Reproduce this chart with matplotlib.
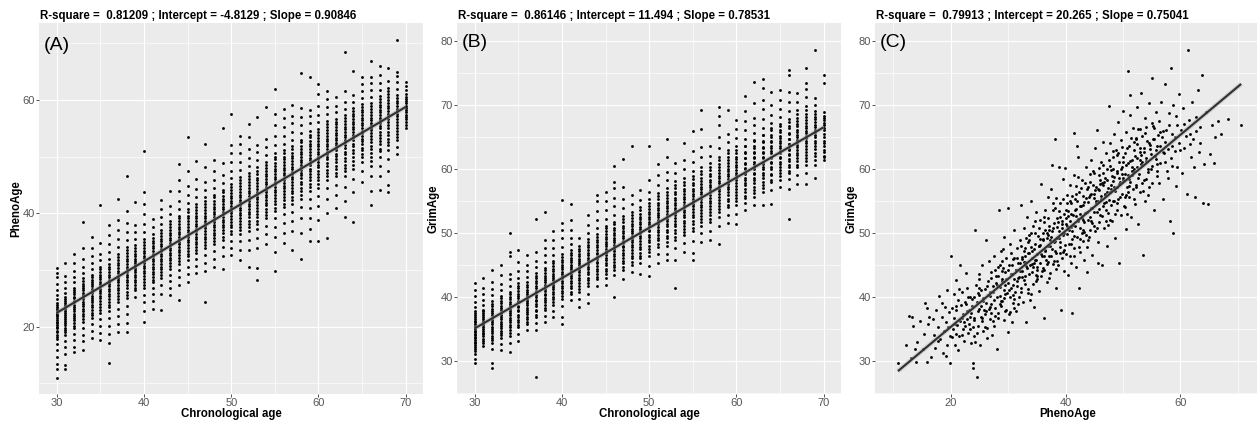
import matplotlib
matplotlib.use("Agg")
import matplotlib.pyplot as plt
from matplotlib.ticker import MultipleLocator
import numpy as np

plt.rcParams['font.family'] = ['Liberation Sans', 'DejaVu Sans']

# ---------------- data ----------------
ages = [30, 31, 32, 33, 34, 35, 36, 37, 38, 39, 40, 41, 42, 43, 44, 45, 46, 47, 48, 49,
        50, 51, 52, 53, 54, 55, 56, 57, 58, 59, 60, 61, 62, 63, 64, 65, 66, 67, 68, 69, 70]

# Panel A: PhenoAge values observed at each chronological age (spread of each column)
phenoage_by_age = [
    [10.9, 12.5, 13.4, 14.6, 15.8, 16.9, 17.8, 18.6, 19.3, 20.0, 20.6, 21.2, 21.8, 22.3, 22.9, 23.5, 24.1, 24.8, 25.6, 26.5, 27.6, 28.7, 29.5, 30.3],
    [12.5, 13.3, 15.1, 16.4, 17.5, 18.6, 19.4, 20.3, 21.0, 21.7, 22.4, 23.1, 23.8, 24.5, 25.2, 26.0, 26.9, 27.8, 28.9, 31.2],
    [15.6, 16.5, 17.6, 18.7, 19.7, 20.6, 21.5, 22.3, 23.1, 23.9, 24.6, 25.3, 26.1, 26.9, 27.8, 28.8, 29.9, 31.2, 32.9],
    [15.9, 17.4, 18.6, 19.8, 20.9, 21.9, 22.8, 23.6, 24.4, 25.2, 26.0, 26.8, 27.6, 28.5, 29.5, 30.6, 31.9, 33.8, 38.5],
    [18.0, 19.2, 20.4, 21.5, 22.5, 23.4, 24.3, 25.1, 25.9, 26.7, 27.5, 28.3, 29.2, 30.1, 31.2, 32.4, 33.8, 35.9],
    [17.6, 18.9, 20.1, 21.3, 22.4, 23.5, 24.5, 25.4, 26.3, 27.1, 27.9, 28.8, 29.7, 30.6, 31.7, 32.9, 34.8, 41.4],
    [13.6, 17.2, 18.7, 20.2, 21.6, 22.8, 23.9, 24.9, 25.8, 26.7, 27.5, 28.3, 29.2, 30.1, 31.0, 32.0, 33.2, 34.6, 36.1, 37.9],
    [19.0, 20.4, 21.8, 23.1, 24.3, 25.4, 26.4, 27.3, 28.2, 29.0, 29.9, 30.8, 31.8, 32.9, 34.1, 35.5, 37.0, 38.8, 42.5],
    [19.0, 20.7, 22.3, 23.7, 25.0, 26.2, 27.3, 28.3, 29.2, 30.1, 31.0, 32.0, 33.0, 34.1, 35.3, 36.7, 38.3, 40.4, 46.5],
    [25.3, 26.4, 27.4, 28.3, 29.2, 30.0, 30.8, 31.6, 32.5, 33.4, 34.4, 35.5, 36.7, 38.0, 42.0],
    [20.9, 22.8, 24.3, 25.6, 26.8, 27.9, 28.9, 29.8, 30.7, 31.6, 32.5, 33.4, 34.4, 35.5, 36.7, 38.1, 39.8, 41.6, 43.7, 51.0],
    [23.2, 24.6, 25.8, 26.9, 27.9, 28.8, 29.7, 30.6, 31.5, 32.4, 33.3, 34.2, 35.2, 36.3, 37.5, 39.0],
    [23.0, 25.8, 27.3, 28.5, 29.6, 30.6, 31.5, 32.4, 33.3, 34.2, 35.1, 36.0, 37.0, 38.1, 39.3, 40.8, 42.4],
    [25.6, 26.9, 28.1, 29.2, 30.2, 31.2, 32.1, 33.0, 33.9, 34.8, 35.7, 36.6, 37.6, 38.7, 39.9, 41.3, 43.9],
    [24.7, 27.4, 28.8, 30.0, 31.1, 32.1, 33.1, 34.0, 34.9, 35.8, 36.7, 37.6, 38.6, 39.6, 40.8, 42.1, 44.0, 45.9, 48.7],
    [27.9, 29.3, 30.6, 31.8, 32.9, 33.9, 34.9, 35.8, 36.7, 37.6, 38.6, 39.6, 40.7, 41.9, 43.2, 44.8, 47.4, 53.5],
    [29.4, 30.7, 31.9, 33.0, 34.0, 35.0, 35.9, 36.8, 37.7, 38.6, 39.6, 40.6, 41.7, 42.9, 44.3, 46.0, 49.2],
    [24.4, 29.8, 31.3, 32.6, 33.8, 34.9, 35.9, 36.9, 37.8, 38.7, 39.6, 40.6, 41.7, 42.8, 44.1, 45.6, 48.2, 52.2],
    [30.6, 32.0, 33.3, 34.5, 35.6, 36.6, 37.6, 38.5, 39.4, 40.3, 41.2, 42.2, 43.3, 44.5, 45.9, 47.5, 49.4],
    [30.1, 32.5, 34.0, 35.3, 36.5, 37.5, 38.5, 39.4, 40.3, 41.2, 42.1, 43.1, 44.2, 45.4, 46.8, 48.8, 55.0],
    [32.6, 33.9, 35.2, 36.4, 37.5, 38.5, 39.5, 40.4, 41.3, 42.2, 43.1, 44.1, 45.1, 46.2, 47.5, 49.0, 50.6, 52.0, 57.5],
    [31.8, 33.6, 35.1, 36.4, 37.6, 38.7, 39.7, 40.6, 41.5, 42.4, 43.3, 44.3, 45.3, 46.4, 47.6, 49.0, 50.6, 52.2, 53.6],
    [30.5, 33.5, 35.3, 36.8, 38.1, 39.3, 40.3, 41.3, 42.2, 43.1, 44.0, 45.0, 46.0, 47.1, 48.3, 49.7, 51.4, 53.5, 55.8],
    [28.2, 30.3, 33.8, 35.7, 37.3, 38.7, 39.9, 41.0, 42.0, 42.9, 43.8, 44.8, 45.8, 46.9, 48.1, 49.4, 50.9, 52.0, 57.0],
    [34.6, 36.3, 37.8, 39.1, 40.3, 41.4, 42.4, 43.3, 44.2, 45.1, 46.0, 47.0, 48.0, 49.1, 50.3, 51.7, 53.2, 58.8],
    [29.9, 33.2, 35.8, 37.6, 39.1, 40.4, 41.6, 42.7, 43.7, 44.6, 45.5, 46.4, 47.4, 48.4, 49.5, 50.7, 52.1, 53.6, 55.6, 57.6, 62.0],
    [34.8, 36.6, 38.3, 39.8, 41.1, 42.3, 43.4, 44.4, 45.3, 46.2, 47.1, 48.0, 49.0, 50.0, 51.1, 52.3, 53.7, 55.3, 56.8, 58.4],
    [33.5, 36.8, 38.7, 40.3, 41.7, 42.9, 44.0, 45.0, 46.0, 46.9, 47.8, 48.7, 49.7, 50.7, 51.8, 53.0, 54.4, 56.0, 57.2, 59.1],
    [32.0, 36.5, 39.2, 41.1, 42.6, 43.9, 45.1, 46.2, 47.2, 48.1, 49.0, 49.9, 50.9, 51.9, 53.0, 54.2, 55.5, 57.0, 58.5, 64.8],
    [35.2, 37.2, 39.1, 40.9, 42.5, 43.9, 45.2, 46.4, 47.5, 48.5, 49.4, 50.3, 51.3, 52.3, 53.4, 54.6, 55.9, 57.2, 58.2, 64.1],
    [35.2, 38.9, 41.3, 43.0, 44.5, 45.8, 47.0, 48.1, 49.1, 50.0, 50.9, 51.8, 52.8, 53.8, 54.9, 56.1, 57.4, 59.0, 61.0, 62.9],
    [35.6, 40.0, 42.6, 44.4, 45.9, 47.2, 48.4, 49.5, 50.5, 51.4, 52.3, 53.2, 54.2, 55.2, 56.3, 57.5, 58.8, 60.2, 61.5],
    [40.9, 43.2, 45.0, 46.5, 47.8, 49.0, 50.1, 51.1, 52.0, 52.9, 53.8, 54.7, 55.7, 56.7, 57.8, 59.0, 60.6],
    [39.3, 42.2, 44.7, 46.5, 48.0, 49.3, 50.5, 51.6, 52.6, 53.5, 54.4, 55.3, 56.3, 57.3, 58.4, 59.6, 61.5, 68.4],
    [38.5, 43.8, 46.1, 47.8, 49.3, 50.6, 51.8, 52.9, 53.9, 54.8, 55.7, 56.6, 57.6, 58.6, 59.7, 60.9, 65.2],
    [45.6, 47.4, 49.0, 50.4, 51.6, 52.7, 53.7, 54.6, 55.5, 56.4, 57.3, 58.3, 59.3, 60.4, 61.6, 62.9, 64.1],
    [41.5, 44.0, 46.6, 48.4, 50.0, 51.4, 52.6, 53.7, 54.7, 55.6, 56.5, 57.4, 58.4, 59.4, 60.5, 61.7, 63.0, 64.0, 66.8],
    [44.2, 46.5, 48.4, 50.0, 51.4, 52.7, 53.9, 55.0, 56.0, 56.9, 57.8, 58.7, 59.7, 60.7, 61.8, 63.0, 64.4, 66.0],
    [43.8, 45.0, 47.5, 49.5, 51.2, 52.6, 53.9, 55.1, 56.2, 57.2, 58.1, 59.0, 60.0, 61.0, 62.1, 63.4, 65.7],
    [50.5, 51.7, 52.9, 54.0, 55.1, 56.1, 57.1, 58.0, 58.9, 59.9, 60.9, 62.0, 63.2, 64.3, 65.0, 70.6],
    [55.0, 55.5, 56.2, 57.0, 57.8, 58.6, 59.4, 60.2, 61.0, 61.8, 62.5, 63.2],
]

# Panel A: extra PhenoAge values in the dense core of each column
phenoage_core_by_age = [
    [18.2, 19.0, 19.7, 20.3, 20.9, 21.5, 22.1, 22.6, 23.2, 23.8],
    [19.0, 19.8, 20.7, 21.4, 22.0, 22.7, 23.4, 24.2, 24.9],
    [20.2, 21.1, 21.9, 22.7, 23.5, 24.3, 25.0, 25.7, 26.5],
    [21.4, 22.3, 23.2, 24.0, 24.8, 25.6, 26.4, 27.2, 28.0],
    [22.0, 23.0, 23.9, 24.7, 25.5, 26.3, 27.1, 27.9, 28.7],
    [22.9, 24.0, 25.0, 25.9, 26.7, 27.5, 28.4, 29.2, 30.1],
    [23.4, 24.4, 25.4, 26.3, 27.1, 27.9, 28.8, 29.6, 30.5],
    [24.8, 25.9, 26.9, 27.8, 28.6, 29.5, 30.4, 31.3, 32.3],
    [25.6, 26.8, 27.8, 28.8, 29.7, 30.6, 31.5, 32.5, 33.5],
    [26.9, 27.9, 28.8, 29.6, 30.4, 31.2, 32.0, 32.9, 33.9],
    [27.3, 28.4, 29.4, 30.3, 31.2, 32.1, 33.0, 33.9, 34.9],
    [28.3, 29.3, 30.2, 31.1, 32.0, 32.9, 33.8, 34.7, 35.7],
    [29.1, 30.1, 31.0, 31.9, 32.8, 33.7, 34.6, 35.5, 36.5],
    [30.7, 31.7, 32.6, 33.5, 34.4, 35.3, 36.2, 37.1, 38.2],
    [31.6, 32.6, 33.6, 34.5, 35.4, 36.3, 37.2, 38.1, 39.1],
    [32.4, 33.4, 34.4, 35.3, 36.2, 37.1, 38.1, 39.1, 40.2],
    [33.5, 34.5, 35.5, 36.4, 37.3, 38.2, 39.1, 40.1, 41.2],
    [34.4, 35.4, 36.4, 37.4, 38.3, 39.2, 40.1, 41.1, 42.2],
    [35.1, 36.1, 37.1, 38.0, 38.9, 39.8, 40.8, 41.7, 42.8],
    [35.9, 37.0, 38.0, 38.9, 39.8, 40.7, 41.6, 42.6, 43.7],
    [36.9, 38.0, 39.0, 40.0, 40.9, 41.8, 42.7, 43.6, 44.6],
    [37.1, 38.2, 39.2, 40.1, 41.0, 42.0, 42.9, 43.8, 44.8, 45.9],
    [37.5, 38.7, 39.8, 40.8, 41.7, 42.6, 43.6, 44.5, 45.5, 46.6],
    [38.1, 39.3, 40.4, 41.5, 42.5, 43.4, 44.3, 45.3, 46.3, 47.5],
    [39.7, 40.8, 41.9, 42.9, 43.8, 44.7, 45.6, 46.5, 47.5, 48.6],
    [40.9, 42.1, 43.2, 44.2, 45.1, 46.0, 46.9, 47.9, 48.9, 50.0],
    [41.7, 42.8, 43.9, 44.9, 45.8, 46.7, 47.6, 48.5, 49.5, 50.6],
    [42.4, 43.5, 44.5, 45.5, 46.4, 47.3, 48.2, 49.2, 50.2, 51.3],
    [43.3, 44.5, 45.6, 46.7, 47.6, 48.5, 49.4, 50.4, 51.4, 52.5],
    [44.6, 45.8, 46.9, 47.9, 48.9, 49.8, 50.8, 51.8, 52.8, 53.9],
    [45.2, 46.4, 47.5, 48.5, 49.5, 50.4, 51.3, 52.3, 53.3, 54.4],
    [46.5, 47.7, 48.8, 49.9, 50.9, 51.8, 52.7, 53.7, 54.7, 55.8],
    [47.2, 48.4, 49.5, 50.5, 51.5, 52.4, 53.3, 54.2, 55.2, 56.2],
    [47.4, 48.6, 49.8, 50.9, 52.0, 53.0, 53.9, 54.8, 55.8, 56.8],
    [48.6, 49.9, 51.1, 52.3, 53.4, 54.3, 55.2, 56.1, 57.1, 58.1],
    [50.0, 51.1, 52.2, 53.2, 54.1, 55.0, 55.9, 56.8, 57.8, 58.8],
    [49.2, 50.6, 51.9, 53.1, 54.2, 55.1, 56.0, 56.9, 57.9, 58.9],
    [51.0, 52.2, 53.3, 54.4, 55.4, 56.4, 57.3, 58.2, 59.2, 60.2],
    [52.0, 53.2, 54.4, 55.6, 56.6, 57.6, 58.5, 59.5, 60.5, 61.6],
    [53.5, 54.6, 55.6, 56.6, 57.5, 58.4, 59.4, 60.4],
    [56.6, 57.4, 58.2, 59.0, 59.8, 60.6],
]

# Panel B: GrimAge values observed at each chronological age (spread of each column)
grimage_by_age = [
    [29.6, 30.2, 31.1, 31.8, 32.4, 33.0, 33.5, 34.0, 34.5, 35.0, 35.5, 36.0, 36.5, 37.1, 37.7, 38.4, 39.2, 40.1, 41.0, 42.1],
    [32.3, 33.1, 33.8, 34.4, 35.0, 35.6, 36.2, 36.8, 37.4, 38.0, 38.7, 39.5, 40.4, 41.3, 42.9],
    [28.8, 29.6, 31.9, 32.8, 33.6, 34.3, 35.0, 35.7, 36.4, 37.1, 37.8, 38.5, 39.3, 40.2, 41.2, 42.3, 44.2],
    [31.7, 32.6, 33.5, 34.3, 35.1, 35.8, 36.5, 37.2, 37.9, 38.6, 39.3, 40.1, 41.0, 42.0, 43.4, 45.0],
    [31.3, 32.8, 33.9, 34.8, 35.6, 36.4, 37.1, 37.8, 38.5, 39.2, 40.0, 40.8, 41.7, 42.7, 43.5, 46.3, 47.0, 50.0],
    [33.1, 34.2, 35.2, 36.1, 36.9, 37.7, 38.4, 39.1, 39.8, 40.5, 41.3, 42.1, 43.0, 44.0, 45.5, 47.3],
    [34.8, 35.7, 36.5, 37.3, 38.0, 38.7, 39.4, 40.1, 40.8, 41.5, 42.3, 43.1, 44.0, 45.0, 46.5],
    [27.4, 34.8, 35.9, 36.8, 37.7, 38.5, 39.3, 40.0, 40.7, 41.4, 42.1, 42.9, 43.7, 44.6, 45.6, 47.0, 52.1],
    [36.1, 37.0, 37.9, 38.7, 39.5, 40.2, 40.9, 41.6, 42.3, 43.0, 43.7, 44.5, 45.4, 46.5, 47.6, 48.9, 53.2],
    [36.9, 37.8, 38.7, 39.6, 40.4, 41.2, 41.9, 42.6, 43.3, 44.0, 44.8, 45.6, 46.5, 47.6, 48.8, 50.3],
    [35.7, 36.8, 38.6, 39.7, 40.6, 41.4, 42.2, 42.9, 43.6, 44.3, 45.0, 45.8, 46.7, 47.8, 49.1, 50.4, 51.5, 55.1],
    [39.5, 40.4, 41.3, 42.1, 42.9, 43.6, 44.3, 45.0, 45.7, 46.5, 47.3, 48.2, 49.2, 50.5, 52.0, 54.5],
    [38.4, 39.6, 40.7, 41.7, 42.6, 43.4, 44.2, 44.9, 45.6, 46.3, 47.1, 47.9, 49.1],
    [39.0, 40.4, 41.6, 42.6, 43.5, 44.3, 45.1, 45.8, 46.5, 47.3, 48.1, 49.0, 50.0, 51.2, 52.8],
    [41.6, 42.7, 43.6, 44.4, 45.2, 45.9, 46.6, 47.3, 48.1, 48.9, 49.8, 50.8, 52.0, 53.4, 55.0, 55.9],
    [41.8, 43.0, 44.0, 44.9, 45.7, 46.5, 47.2, 47.9, 48.6, 49.4, 50.2, 51.1, 52.2, 53.5, 55.0, 56.4],
    [40.0, 43.4, 44.6, 45.5, 46.3, 47.1, 47.8, 48.5, 49.2, 50.0, 50.8, 51.7, 52.8, 54.1, 55.5, 57.0, 58.0, 60.4],
    [42.8, 44.1, 45.2, 46.1, 46.9, 47.7, 48.4, 49.1, 49.9, 50.7, 51.6, 52.6, 53.8, 55.2, 57.2, 61.5],
    [43.8, 45.0, 46.0, 46.9, 47.7, 48.5, 49.2, 49.9, 50.6, 51.4, 52.3, 53.3, 54.5, 55.9, 63.6],
    [43.6, 45.2, 46.4, 47.4, 48.3, 49.1, 49.9, 50.6, 51.3, 52.1, 53.0, 54.0, 55.1, 56.7],
    [43.2, 44.8, 46.3, 47.5, 48.5, 49.4, 50.2, 51.0, 51.7, 52.5, 53.3, 54.2, 55.2, 56.4, 58.3, 63.6],
    [45.2, 46.6, 47.8, 48.8, 49.7, 50.5, 51.3, 52.0, 52.7, 53.5, 54.3, 55.2, 56.2, 57.4, 59.0, 60.7],
    [45.7, 46.6, 47.9, 49.1, 50.1, 51.0, 51.8, 52.6, 53.4, 54.2, 55.0, 55.9, 57.0, 58.2, 59.5, 61.9, 64.7],
    [41.3, 45.7, 47.6, 48.9, 50.0, 51.0, 51.9, 52.7, 53.5, 54.3, 55.1, 56.0, 57.0, 58.1, 59.4, 60.9],
    [47.0, 48.4, 49.6, 50.6, 51.5, 52.4, 53.2, 54.0, 54.8, 55.6, 56.5, 57.5, 58.6, 59.9, 61.4, 64.0],
    [45.7, 46.8, 48.7, 50.2, 51.4, 52.4, 53.3, 54.1, 54.9, 55.7, 56.5, 57.4, 58.4, 59.6, 61.0, 62.7, 65.9],
    [48.6, 49.9, 51.1, 52.2, 53.1, 54.0, 54.8, 55.6, 56.4, 57.2, 58.1, 59.1, 60.3, 61.8, 63.4, 66.2, 69.1],
    [48.8, 50.3, 51.6, 52.7, 53.7, 54.6, 55.5, 56.3, 57.1, 57.9, 58.8, 59.8, 60.9, 62.0, 63.5],
    [48.2, 51.0, 52.5, 53.7, 54.7, 55.6, 56.5, 57.3, 58.1, 58.9, 59.8, 60.8, 61.9, 63.3, 65.0, 66.8, 68.3, 69.6],
    [51.5, 52.8, 54.0, 55.0, 55.9, 56.8, 57.6, 58.4, 59.2, 60.0, 60.9, 61.9, 63.0, 64.2, 65.4, 69.2],
    [51.4, 52.9, 54.3, 55.4, 56.4, 57.3, 58.2, 59.0, 59.8, 60.6, 61.5, 62.5, 63.6, 64.8, 66.2, 67.6],
    [53.5, 54.7, 55.8, 56.8, 57.7, 58.5, 59.3, 60.1, 60.9, 61.7, 62.6, 63.6, 64.7, 66.0, 67.4, 69.0, 71.4],
    [54.3, 55.6, 56.7, 57.7, 58.6, 59.4, 60.2, 61.0, 61.8, 62.6, 63.5, 64.5, 65.6, 66.8, 68.0, 70.2, 73.5],
    [54.3, 56.3, 57.5, 58.5, 59.4, 60.2, 61.0, 61.8, 62.6, 63.4, 64.3, 65.3, 66.4, 67.7, 69.3, 70.8, 72.6, 74.0],
    [54.5, 56.6, 57.9, 59.0, 60.0, 60.9, 61.7, 62.5, 63.3, 64.1, 65.0, 66.0, 67.1, 68.4, 69.9, 72.0],
    [57.2, 58.3, 59.3, 60.2, 61.1, 61.9, 62.7, 63.5, 64.3, 65.1, 66.0, 67.0, 68.1, 69.4, 70.8, 72.3],
    [52.2, 56.9, 58.4, 59.6, 60.6, 61.5, 62.3, 63.1, 63.9, 64.7, 65.6, 66.6, 67.7, 69.0, 70.5, 72.0, 74.6, 75.4],
    [57.6, 59.0, 60.2, 61.2, 62.1, 62.9, 63.7, 64.5, 65.3, 66.1, 67.0, 68.0, 69.2, 70.5, 71.8],
    [57.6, 59.3, 60.6, 61.7, 62.6, 63.5, 64.3, 65.1, 65.9, 66.7, 67.6, 68.6, 69.8, 71.2, 72.4, 73.4, 75.7],
    [58.5, 60.6, 62.0, 63.1, 64.0, 64.9, 65.7, 66.5, 67.3, 68.1, 69.0, 70.0, 71.1, 78.6],
    [61.4, 62.0, 63.0, 64.0, 65.0, 66.0, 66.8, 67.6, 68.3, 68.9, 73.4, 74.6],
]

# Panel B: extra GrimAge values in the dense core of each column
grimage_core_by_age = [
    [31.5, 32.2, 32.7, 33.2, 33.7, 34.2, 34.7, 35.2, 35.7, 36.2, 36.8, 37.4],
    [32.7, 33.4, 34.1, 34.7, 35.3, 35.9, 36.5, 37.1, 37.7],
    [33.2, 33.9, 34.6, 35.3, 36.0, 36.7, 37.4, 38.1, 38.9],
    [34.0, 34.7, 35.4, 36.1, 36.8, 37.5, 38.2, 39.0, 39.8],
    [34.4, 35.2, 36.0, 36.7, 37.4, 38.1, 38.8, 39.6, 40.4],
    [35.6, 36.4, 37.2, 37.9, 38.6, 39.3, 40.1, 40.9, 41.7],
    [36.1, 36.9, 37.6, 38.3, 39.0, 39.7, 40.4, 41.1, 41.9],
    [37.2, 38.0, 38.8, 39.5, 40.2, 40.9, 41.6, 42.4, 43.3],
    [38.3, 39.1, 39.8, 40.5, 41.2, 41.9, 42.6, 43.3, 44.1],
    [39.1, 39.9, 40.7, 41.5, 42.2, 42.9, 43.6, 44.4, 45.2],
    [40.1, 40.9, 41.7, 42.5, 43.2, 43.9, 44.6, 45.4, 46.2],
    [40.8, 41.6, 42.4, 43.2, 44.0, 44.7, 45.4, 46.1, 46.9],
    [41.2, 42.1, 43.0, 43.8, 44.5, 45.2, 45.9, 46.7, 47.5],
    [42.1, 43.0, 43.9, 44.7, 45.4, 46.1, 46.9, 47.7, 48.5],
    [43.1, 44.0, 44.8, 45.5, 46.2, 46.9, 47.7, 48.5, 49.3],
    [43.5, 44.4, 45.3, 46.1, 46.8, 47.5, 48.2, 49.0, 49.8, 50.7],
    [44.1, 45.0, 45.9, 46.7, 47.4, 48.1, 48.8, 49.6, 50.4, 51.3],
    [44.7, 45.6, 46.5, 47.3, 48.0, 48.7, 49.5, 50.3, 51.1, 52.1],
    [45.5, 46.4, 47.3, 48.1, 48.8, 49.5, 50.2, 51.0, 51.8, 52.8],
    [46.0, 46.9, 47.8, 48.7, 49.5, 50.2, 50.9, 51.7, 52.5, 53.5],
    [47.0, 47.9, 48.8, 49.7, 50.5, 51.3, 52.1, 52.9, 53.7, 54.7],
    [48.3, 49.2, 50.1, 50.9, 51.7, 52.4, 53.1, 53.9, 54.7, 55.7],
    [48.6, 49.5, 50.5, 51.4, 52.2, 53.0, 53.8, 54.6, 55.4, 56.4],
    [49.4, 50.4, 51.4, 52.3, 53.1, 53.9, 54.7, 55.5, 56.4, 57.4],
    [50.1, 51.0, 51.9, 52.8, 53.6, 54.4, 55.2, 56.0, 56.9, 57.9],
    [50.8, 51.8, 52.8, 53.7, 54.5, 55.3, 56.1, 56.9, 57.8, 58.8],
    [51.6, 52.6, 53.5, 54.4, 55.2, 56.0, 56.8, 57.6, 58.5, 59.6],
    [52.2, 53.2, 54.1, 55.0, 55.9, 56.7, 57.5, 58.3, 59.2, 60.3],
    [53.2, 54.2, 55.1, 56.0, 56.9, 57.7, 58.5, 59.3, 60.2, 61.3],
    [54.3, 55.3, 56.3, 57.2, 58.0, 58.8, 59.6, 60.5, 61.4, 62.4],
    [54.9, 55.9, 56.9, 57.8, 58.6, 59.4, 60.2, 61.0, 61.9, 62.9],
    [55.4, 56.4, 57.4, 58.3, 59.2, 60.0, 60.8, 61.6, 62.5, 63.5],
    [56.2, 57.2, 58.2, 59.1, 60.0, 60.8, 61.6, 62.4, 63.3, 64.4],
    [57.0, 58.0, 59.0, 59.9, 60.8, 61.6, 62.4, 63.2, 64.1, 65.2],
    [58.2, 59.2, 60.2, 61.1, 61.9, 62.7, 63.5, 64.3, 65.2, 66.3],
    [58.8, 59.8, 60.7, 61.6, 62.4, 63.2, 64.0, 64.8, 65.7, 66.7],
    [59.3, 60.3, 61.2, 62.1, 63.0, 63.8, 64.6, 65.4, 66.3, 67.3],
    [60.6, 61.6, 62.5, 63.4, 64.2, 65.0, 65.8, 66.6, 67.5, 68.5],
    [61.2, 62.2, 63.1, 64.0, 64.8, 65.6, 66.4, 67.2, 68.1, 69.1],
    [61.3, 62.4, 63.5, 64.4, 65.3, 66.1, 66.9, 67.7, 68.6],
    [61.8, 62.6, 63.5, 64.4, 65.4, 66.4, 67.2, 68.0],
]

# Panel C: (PhenoAge, GrimAge) pairs
pheno_grim_pairs = [
    (10.8, 29.7), (12.2, 32.5), (12.7, 37.0), (13.2, 36.8), (13.5, 35.4), (13.0, 30.5), (14.0, 29.8), (14.6, 36.2),
    (15.3, 34.2), (15.6, 39.0), (15.8, 29.8), (15.2, 31.8), (14.2, 33.0), (16.0, 35.8), (15.9, 38.2), (13.7, 31.9),
    (16.5, 30.6), (16.9, 36.5), (17.2, 32.0), (17.5, 38.0), (17.8, 35.2), (18.0, 40.1), (18.2, 33.4), (18.4, 36.9),
    (18.6, 31.2), (18.8, 34.6), (19.0, 38.4), (19.1, 36.0), (19.3, 32.5), (19.4, 41.0), (19.6, 35.3), (19.7, 37.6),
    (19.9, 33.8), (19.2, 30.8), (17.0, 34.0), (18.5, 39.0), (16.3, 36.8), (17.7, 33.1), (19.8, 29.6),
    (20.1, 46.3), (20.2, 38.2), (20.4, 34.9), (20.5, 36.7), (20.7, 32.4), (20.9, 42.6), (21.0, 37.9), (21.1, 35.6),
    (21.3, 39.5), (21.4, 33.8), (21.6, 44.9), (21.7, 36.2), (21.8, 38.7), (22.0, 40.8), (22.1, 35.0), (22.2, 37.3),
    (22.4, 33.1), (22.5, 39.2), (22.6, 43.7), (22.8, 36.5), (22.9, 41.3), (23.0, 34.4), (23.1, 38.0), (23.2, 35.7),
    (23.4, 40.0), (23.5, 32.7), (23.6, 37.4), (23.7, 39.6), (23.8, 29.7), (23.9, 28.8), (20.6, 40.5), (21.2, 31.6),
    (22.3, 36.0), (23.3, 36.9), (20.8, 35.8),
    (24.0, 36.6), (24.2, 50.5), (24.3, 33.0), (24.5, 27.4), (24.4, 41.8), (24.6, 39.1), (24.7, 35.4), (24.8, 37.8),
    (24.9, 43.5), (25.0, 40.2), (25.1, 32.4), (25.2, 38.5), (25.4, 36.2), (25.5, 44.9), (25.6, 39.8), (25.7, 34.6),
    (25.9, 41.2), (26.0, 37.3), (26.1, 48.8), (26.2, 39.0), (26.3, 35.1), (26.5, 42.4), (26.6, 38.1), (26.7, 45.6),
    (26.8, 40.7), (26.9, 36.5), (27.0, 43.0), (27.1, 38.9), (27.2, 34.0), (27.4, 41.6), (27.5, 46.3), (27.6, 39.5),
    (27.7, 37.0), (27.8, 44.1), (27.9, 42.2), (28.0, 31.8), (25.3, 41.0), (26.4, 33.5), (27.3, 36.2), (24.1, 39.9),
    (25.8, 38.0), (26.9, 40.1), (27.6, 35.5), (25.0, 42.8),
    (28.1, 40.0), (28.2, 43.2), (28.3, 37.4), (28.4, 53.5), (28.5, 45.0), (28.6, 41.5), (28.7, 38.6), (28.8, 47.2),
    (28.9, 42.8), (29.0, 39.4), (29.1, 44.5), (29.2, 36.3), (29.3, 49.4), (29.4, 41.9), (29.5, 43.8), (29.6, 38.0),
    (29.7, 46.1), (29.8, 40.6), (29.9, 53.8), (30.0, 42.2), (30.1, 37.3), (30.2, 44.9), (30.3, 39.9), (30.4, 48.3),
    (30.5, 41.3), (30.6, 36.0), (30.7, 43.6), (30.8, 45.9), (30.9, 39.0), (31.0, 42.7), (31.1, 50.5), (31.2, 40.8),
    (31.3, 37.7), (31.4, 44.2), (31.5, 47.6), (31.6, 41.6), (31.7, 38.8), (31.8, 45.3), (31.9, 43.1), (30.0, 34.5),
    (29.5, 37.8), (31.0, 39.6), (28.9, 44.0), (30.5, 46.8), (29.2, 41.0), (31.5, 42.4), (28.5, 38.9), (30.8, 40.3),
    (32.0, 44.0), (32.1, 48.8), (32.2, 41.4), (32.3, 54.4), (32.4, 46.2), (32.5, 43.1), (32.6, 39.2), (32.7, 50.8),
    (32.8, 45.5), (32.9, 42.0), (33.0, 47.6), (33.1, 36.0), (33.2, 44.8), (33.3, 52.4), (33.4, 41.2), (33.5, 46.9),
    (33.6, 43.6), (33.7, 49.7), (33.8, 45.0), (33.9, 40.4), (34.0, 55.0), (34.1, 47.2), (34.2, 43.9), (34.3, 51.1),
    (34.4, 44.6), (34.5, 38.4), (34.6, 48.3), (34.7, 45.8), (34.8, 42.5), (34.9, 53.2), (35.0, 46.6), (35.1, 44.1),
    (35.2, 49.5), (35.3, 40.9), (35.4, 47.9), (35.5, 45.2), (35.6, 52.0), (35.7, 43.3), (35.8, 57.6), (35.9, 46.4),
    (32.5, 45.9), (33.4, 48.6), (34.2, 46.0), (35.0, 42.8), (33.0, 43.2), (34.7, 50.0), (35.5, 48.1), (32.8, 47.1),
    (33.8, 39.5), (34.5, 45.3),
    (36.0, 48.8), (36.1, 44.5), (36.2, 51.6), (36.3, 36.7), (36.4, 47.1), (36.5, 53.5), (36.6, 45.8), (36.7, 49.9),
    (36.8, 42.3), (36.9, 55.6), (37.0, 48.0), (37.1, 46.3), (37.2, 51.0), (37.3, 43.7), (37.4, 49.4), (37.5, 56.8),
    (37.6, 47.5), (37.7, 60.6), (37.8, 45.1), (37.9, 50.7), (38.0, 48.6), (38.1, 53.9), (38.2, 64.7), (38.3, 46.9),
    (38.4, 41.4), (38.5, 52.3), (38.6, 49.1), (38.7, 44.9), (38.8, 60.2), (38.9, 50.2), (39.0, 47.8), (39.1, 54.7),
    (39.2, 37.9), (39.3, 51.8), (39.4, 46.0), (39.5, 58.4), (39.6, 49.6), (39.7, 53.0), (39.8, 44.0), (39.9, 60.1),
    (36.5, 50.4), (37.3, 48.9), (38.1, 47.2), (39.0, 52.5), (36.8, 49.2), (37.9, 53.6), (38.6, 45.6), (39.4, 50.8),
    (36.2, 46.4), (37.1, 43.0), (38.3, 55.4), (39.7, 47.3),
    (40.0, 51.3), (40.1, 46.7), (40.2, 55.9), (40.3, 49.8), (40.4, 43.4), (40.5, 53.4), (40.6, 48.2), (40.7, 57.5),
    (40.8, 51.9), (40.9, 45.2), (41.0, 54.6), (41.1, 50.3), (41.2, 37.5), (41.3, 52.8), (41.4, 47.6), (41.5, 59.0),
    (41.6, 51.1), (41.7, 55.2), (41.8, 44.6), (41.9, 53.7), (42.0, 49.3), (42.1, 61.9), (42.2, 52.2), (42.3, 41.3),
    (42.4, 56.4), (42.5, 50.8), (42.6, 47.0), (42.7, 54.1), (42.8, 52.6), (42.9, 58.2), (43.0, 48.7), (43.1, 55.7),
    (43.2, 51.6), (43.3, 45.8), (43.4, 53.1), (43.5, 60.3), (43.6, 49.6), (43.7, 56.9), (43.8, 43.8), (43.9, 52.0),
    (40.4, 52.6), (41.2, 49.0), (41.9, 56.1), (42.6, 53.0), (43.3, 50.1), (40.8, 55.0), (41.5, 46.3), (42.2, 58.7),
    (43.0, 54.4), (43.7, 47.7), (41.4, 65.6), (42.0, 63.5), (40.6, 50.5), (42.8, 49.9),
    (44.0, 54.8), (44.1, 49.4), (44.2, 58.0), (44.3, 52.4), (44.4, 61.4), (44.5, 56.1), (44.6, 46.5), (44.7, 53.8),
    (44.8, 59.6), (44.9, 51.0), (45.0, 55.5), (45.1, 63.2), (45.2, 50.2), (45.3, 57.2), (45.4, 53.3), (45.5, 66.0),
    (45.6, 54.9), (45.7, 48.6), (45.8, 59.0), (45.9, 56.6), (46.0, 52.8), (46.1, 61.0), (46.2, 55.8), (46.3, 44.9),
    (46.4, 57.8), (46.5, 54.2), (46.6, 64.2), (46.7, 50.7), (46.8, 58.6), (46.9, 56.0), (47.0, 62.5), (47.1, 53.5),
    (47.2, 59.9), (47.3, 48.0), (47.4, 57.0), (47.5, 55.1), (47.6, 69.8), (47.7, 52.0), (47.8, 60.4), (47.9, 56.9),
    (44.5, 51.8), (45.3, 55.0), (46.0, 58.2), (46.7, 54.6), (47.4, 51.2), (44.8, 57.5), (45.8, 53.7), (46.5, 59.4),
    (47.2, 56.3), (44.2, 55.9), (45.6, 45.3), (47.8, 64.0),
    (48.0, 57.4), (48.1, 51.9), (48.2, 61.8), (48.3, 54.9), (48.4, 65.4), (48.5, 58.7), (48.6, 49.1), (48.7, 56.5),
    (48.8, 63.0), (48.9, 53.6), (49.0, 59.6), (49.1, 67.3), (49.2, 55.3), (49.3, 61.0), (49.4, 45.2), (49.5, 57.9),
    (49.6, 64.5), (49.7, 52.7), (49.8, 60.3), (49.9, 56.0), (50.0, 69.0), (50.1, 58.3), (50.2, 54.1), (50.3, 62.4),
    (50.4, 59.2), (50.5, 50.6), (50.6, 65.7), (50.7, 57.1), (50.8, 60.9), (50.9, 75.3), (51.0, 55.6), (51.1, 63.6),
    (51.2, 58.0), (51.3, 68.4), (51.4, 52.4), (51.5, 61.4), (51.6, 59.7), (51.7, 66.3), (51.8, 56.8), (51.9, 64.1),
    (48.5, 55.0), (49.3, 58.5), (50.1, 61.8), (50.8, 56.4), (51.5, 59.0), (49.0, 62.2), (50.4, 55.6), (51.2, 71.5),
    (48.3, 60.0), (50.7, 53.0),
    (52.0, 60.0), (52.1, 54.5), (52.2, 64.8), (52.3, 57.4), (52.4, 69.6), (52.5, 61.6), (52.6, 51.3), (52.7, 66.2),
    (52.8, 59.1), (52.9, 63.2), (53.0, 56.3), (53.1, 71.9), (53.2, 60.8), (53.3, 65.1), (53.5, 46.5), (53.6, 58.2),
    (53.7, 62.6), (53.8, 67.9), (53.9, 55.0), (54.0, 61.2), (54.2, 64.3), (54.3, 59.5), (54.5, 70.2), (54.6, 57.2),
    (54.8, 63.7), (55.0, 74.1), (55.1, 60.4), (55.3, 66.7), (55.4, 53.5), (55.6, 62.0), (55.7, 68.9), (55.9, 58.8),
    (52.5, 63.9), (53.4, 57.7), (54.1, 66.5), (54.9, 59.9), (55.5, 64.6), (53.0, 61.3), (54.4, 55.9), (55.8, 61.5),
    (56.0, 63.6), (56.2, 57.7), (56.3, 67.4), (56.5, 60.9), (56.7, 70.5), (56.8, 64.9), (57.0, 55.2), (57.2, 62.4),
    (57.3, 73.2), (57.5, 66.0), (57.7, 59.6), (57.8, 63.1), (58.0, 68.7), (58.2, 51.9), (58.3, 75.8), (58.4, 61.7),
    (58.5, 65.5), (58.7, 50.0), (58.8, 70.0), (59.0, 62.8), (59.2, 57.3), (59.4, 66.9), (59.5, 60.2), (59.7, 71.6),
    (59.8, 64.0), (56.4, 65.8), (57.4, 61.0), (58.6, 63.5), (59.3, 68.2), (57.9, 58.6),
    (60.1, 66.1), (60.3, 59.4), (60.5, 69.5), (60.7, 63.3), (61.0, 65.1), (61.2, 56.0), (61.3, 78.6), (61.5, 67.6),
    (61.8, 61.9), (62.0, 70.4), (62.2, 64.6), (62.5, 55.6), (62.7, 68.1), (63.0, 72.3), (63.2, 62.6), (63.5, 66.5),
    (63.8, 74.7), (64.0, 54.7), (64.2, 60.8), (64.5, 68.9), (64.8, 54.5), (63.4, 64.0), (62.4, 60.3), (61.6, 63.8),
    (65.2, 62.3), (65.5, 66.8), (66.0, 64.9), (66.5, 67.4), (67.1, 65.4), (68.3, 67.8), (70.6, 66.8), (65.8, 60.9),
]

# Panel C: extra pairs in the dense core of the cloud
pheno_grim_core_pairs = [
    (22.5, 35.5), (22.9, 37.8), (23.3, 35.0), (23.7, 38.6), (24.1, 36.3), (24.5, 34.4), (24.9, 38.1), (25.3, 36.9),
    (25.7, 39.4), (26.1, 37.7), (26.5, 40.2), (26.9, 38.4), (27.3, 40.8), (27.7, 38.3), (28.1, 41.9), (28.5, 40.1),
    (28.9, 42.4), (29.3, 39.8), (29.7, 42.8), (30.1, 41.1), (30.5, 43.5), (30.9, 41.9), (31.3, 44.2), (31.7, 42.9),
    (32.1, 45.2), (32.5, 44.0), (32.9, 46.3), (33.3, 44.5), (33.7, 46.9), (34.1, 45.1), (34.5, 47.4), (34.9, 45.8),
    (35.3, 47.9), (35.7, 46.6), (36.1, 49.0), (36.5, 47.3), (36.9, 49.6), (37.3, 47.9), (37.7, 50.3), (38.1, 48.7),
    (38.5, 50.9), (38.9, 49.1), (39.3, 51.4), (39.7, 49.9), (40.1, 52.3), (40.5, 50.6), (40.9, 52.9), (41.3, 51.2),
    (41.7, 53.6), (42.1, 51.9), (42.5, 54.2), (42.9, 52.3), (43.3, 54.8), (43.7, 53.2), (44.1, 55.6), (44.5, 53.8),
    (44.9, 56.1), (45.3, 54.6), (45.7, 56.9), (46.1, 55.2), (46.5, 57.4), (46.9, 55.9), (47.3, 58.2), (47.7, 56.4),
    (48.1, 58.8), (48.5, 57.1), (48.9, 59.3), (49.3, 57.6), (49.7, 60.0), (50.1, 58.5), (50.5, 60.6), (50.9, 59.0),
    (51.3, 61.2), (51.7, 59.6), (52.1, 62.0), (52.5, 60.3), (52.9, 62.6), (53.3, 61.0), (53.7, 63.3), (54.1, 61.7),
    (54.5, 64.0), (54.9, 62.3), (55.3, 64.6), (55.7, 63.0), (56.1, 65.3), (56.5, 63.5), (56.9, 65.9), (57.3, 64.2),
    (31.0, 46.0), (32.2, 40.7), (33.6, 48.9), (34.8, 43.4), (35.4, 50.8), (36.2, 44.2), (37.0, 52.3), (38.0, 45.6),
    (38.8, 53.4), (39.6, 47.0), (40.3, 54.7), (41.0, 48.3), (41.8, 57.3), (42.6, 49.0), (43.4, 57.8), (44.2, 50.5),
    (45.0, 59.4), (45.8, 51.6), (46.6, 60.6), (47.4, 53.1), (48.2, 62.7), (49.0, 54.6), (49.8, 63.4), (50.6, 55.9),
    (51.4, 64.8), (52.2, 57.1), (53.0, 66.2), (54.0, 58.4), (55.0, 67.1), (56.0, 59.6), (29.0, 45.6), (28.2, 36.6),
    (27.0, 43.9), (26.0, 35.3), (25.0, 41.4), (24.0, 33.9), (23.0, 39.9), (22.0, 34.0), (21.0, 38.6), (20.3, 33.7),
    (57.0, 62.6), (58.0, 66.9), (59.0, 64.9), (60.0, 63.0), (58.5, 60.5), (60.6, 67.0), (61.7, 65.5), (62.8, 65.9),
]

# Panel C: further pairs filling the broad middle of the cloud
pheno_grim_fill_pairs = [
    (28.3, 44.6), (28.7, 39.3), (29.1, 47.5), (29.5, 40.4), (29.9, 44.1), (30.3, 37.6), (30.7, 45.0), (31.1, 38.3),
    (31.5, 46.1), (31.9, 40.0), (32.3, 47.9), (32.7, 42.6), (33.1, 49.2), (33.5, 40.6), (33.9, 47.8), (34.3, 42.0),
    (34.7, 51.9), (35.1, 43.2), (35.5, 49.0), (35.9, 44.0), (36.3, 52.5), (36.7, 45.1), (37.1, 50.5), (37.5, 46.4),
    (37.9, 54.6), (38.3, 44.3), (38.7, 51.6), (39.1, 46.8), (39.5, 55.3), (39.9, 48.1), (40.3, 51.0), (40.7, 46.3),
    (41.1, 55.8), (41.5, 49.5), (41.9, 52.6), (42.3, 47.8), (42.7, 57.0), (43.1, 50.4), (43.5, 55.4), (43.9, 48.9),
    (44.3, 59.2), (44.7, 51.5), (45.1, 56.6), (45.5, 50.8), (45.9, 60.1), (46.3, 52.6), (46.7, 57.9), (47.1, 51.9),
    (47.5, 61.3), (47.9, 54.3), (48.3, 58.1), (48.7, 53.0), (49.1, 62.5), (49.5, 55.6), (49.9, 59.1), (50.3, 54.0),
    (50.7, 63.3), (51.1, 57.3), (51.5, 60.2), (51.9, 55.2), (52.3, 64.6), (52.7, 58.5), (53.1, 62.1), (53.5, 56.5),
    (53.9, 65.6), (54.3, 60.0), (54.7, 63.1), (55.1, 57.8), (55.5, 66.3), (55.9, 60.8), (33.0, 45.4), (34.0, 49.9),
    (35.0, 44.7), (36.0, 50.0), (37.0, 45.4), (38.0, 51.5), (39.0, 48.5), (40.0, 53.6), (41.0, 50.9), (42.0, 55.0),
    (43.0, 52.0), (44.0, 57.1), (45.0, 53.3), (46.0, 57.6), (47.0, 54.8), (48.0, 59.8), (49.0, 57.2), (50.0, 61.0),
    (51.0, 58.4), (52.0, 63.0), (26.3, 41.6), (27.1, 37.5), (27.9, 43.3), (25.5, 36.6), (24.7, 40.6), (23.9, 35.2),
    (22.7, 38.9), (21.9, 36.6), (21.5, 41.2), (20.9, 34.1),
]

# Regression summaries shown in the titles
r_squares = ["0.81209", "0.86146", "0.79913"]
intercepts = [-4.8129, 11.494, 20.265]
slopes = [0.90846, 0.78531, 0.75041]
panel_tags = ["(A)", "(B)", "(C)"]
x_titles = ["Chronological age", "Chronological age", "PhenoAge"]
y_titles = ["PhenoAge", "GrimAge", "GrimAge"]

# ---------------- figure ----------------
W, H = 1257, 424
fig = plt.figure(figsize=(W / 100, H / 100), dpi=100, facecolor="white")

PANEL_TOP, PANEL_BOTTOM = 23.3, 394.0
panel_lr = [(39.3, 423.2), (457.3, 841.0), (875.3, 1259.3)]
xlims = [(28.0, 72.0), (28.0, 72.0), (6.86, 73.76)]
ylims = [(8.12, 73.53), (24.8, 82.72), (24.8, 82.72)]
x_major = [10, 10, 20]
y_major = [20, 10, 10]
tag_y = [0.940, 0.947, 0.947]
ylab_x = [16.0, 434.0, 852.0]


def column_points(columns):
    xs = np.repeat(ages, [len(v) for v in columns])
    ys = np.concatenate([np.asarray(v, float) for v in columns])
    return xs, ys


xa1, ya1 = column_points(phenoage_by_age)
xa2, ya2 = column_points(phenoage_core_by_age)
xb1, yb1 = column_points(grimage_by_age)
xb2, yb2 = column_points(grimage_core_by_age)
pairs_c = pheno_grim_pairs + pheno_grim_core_pairs + pheno_grim_fill_pairs
xc = np.array([p[0] for p in pairs_c])
yc = np.array([p[1] for p in pairs_c])
series = [(np.concatenate([xa1, xa2]), np.concatenate([ya1, ya2])),
          (np.concatenate([xb1, xb2]), np.concatenate([yb1, yb2])),
          (xc, yc)]

for i in range(3):
    left, right = panel_lr[i]
    ax = fig.add_axes([left / W, (H - PANEL_BOTTOM) / H, (right - left) / W,
                       (PANEL_BOTTOM - PANEL_TOP) / H])
    ax.set_facecolor("#EBEBEB")
    for s in ax.spines.values():
        s.set_visible(False)
    ax.set_axisbelow(True)
    ax.xaxis.set_major_locator(MultipleLocator(x_major[i]))
    ax.xaxis.set_minor_locator(MultipleLocator(x_major[i] / 2))
    ax.yaxis.set_major_locator(MultipleLocator(y_major[i]))
    ax.yaxis.set_minor_locator(MultipleLocator(y_major[i] / 2))
    ax.grid(which="major", color="white", linewidth=0.85)
    ax.grid(which="minor", color="white", linewidth=0.45)
    ax.tick_params(which="major", length=2.2, width=0.6, color="#333333",
                   labelcolor="#555555", labelsize=8.0, pad=1.0)
    ax.tick_params(which="minor", length=0)

    x, y = series[i]
    ax.scatter(x, y, s=4.2, c="black", linewidths=0, zorder=2)
    xl = np.array([x.min(), x.max()])
    ax.plot(xl, intercepts[i] + slopes[i] * xl, color="#B0B0B0", lw=3.2,
            alpha=0.5, zorder=3, solid_capstyle="butt")
    ax.plot(xl, intercepts[i] + slopes[i] * xl, color="#303030", lw=1.5,
            zorder=4, solid_capstyle="butt")

    ax.set_xlim(*xlims[i])
    ax.set_ylim(*ylims[i])

    ax.text(0.0105, tag_y[i], panel_tags[i], transform=ax.transAxes,
            fontsize=14, ha="left", va="center", color="black")

    title = f"R-square =  {r_squares[i]} ; Intercept = {intercepts[i]} ; Slope = {slopes[i]}"
    fig.text((left + 0.5) / W, (H - 18.6) / H, title, fontsize=8.3,
             fontweight="bold", ha="left", va="baseline")
    xcenter = (left + right) / 2
    fig.text(xcenter / W, (H - 417.3) / H, x_titles[i], fontsize=8.3,
             fontweight="bold", ha="center", va="baseline")
    fig.text(ylab_x[i] / W, (H - (PANEL_TOP + PANEL_BOTTOM) / 2) / H, y_titles[i],
             fontsize=8.3, fontweight="bold", rotation=90, ha="center", va="center")

fig.savefig("out.png", dpi=100, facecolor="white")
